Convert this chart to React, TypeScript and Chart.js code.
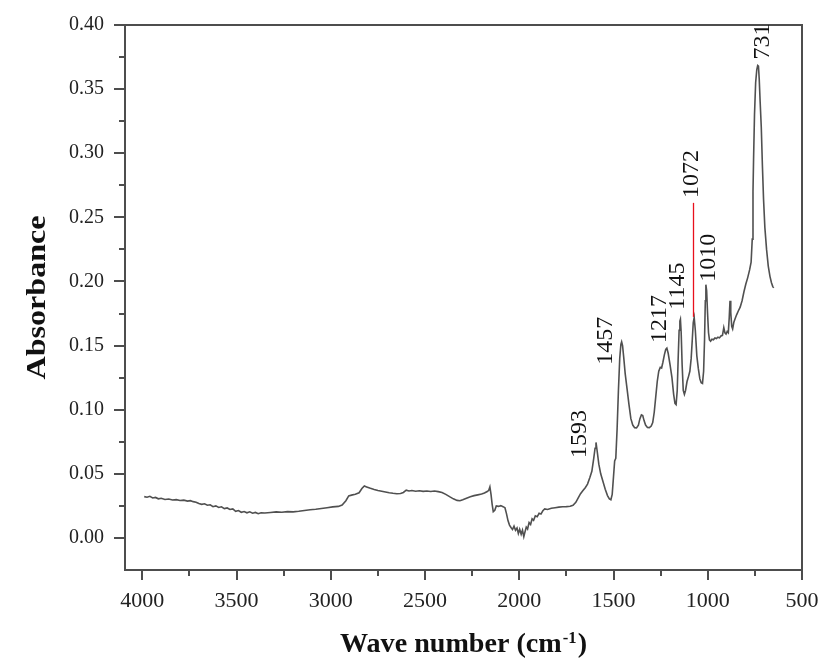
import React, { useEffect, useRef } from "react";
import { Chart, registerables } from "chart.js";

Chart.register(...registerables);

// Spectrum (wavenumber in cm-1, absorbance)
const wavenumbers: number[] = [
  3990, 3975, 3960, 3945, 3930, 3915, 3900, 3880, 3860, 3840, 3820, 3800, 3780, 3760, 3745, 3730,
  3715, 3700, 3685, 3670, 3655, 3640, 3625, 3610, 3595, 3580, 3565, 3550, 3535, 3520, 3505, 3490,
  3475, 3460, 3445, 3430, 3415, 3400, 3385, 3370, 3350, 3320, 3290, 3260, 3230, 3200, 3170, 3140,
  3110, 3080, 3050, 3020, 2990, 2960, 2940, 2920, 2905, 2890, 2870, 2850, 2835, 2822, 2810, 2790,
  2770, 2750, 2730, 2710, 2690, 2670, 2650, 2630, 2615, 2600, 2585, 2570, 2550, 2530, 2510, 2490,
  2470, 2450, 2430, 2410, 2390, 2370, 2350, 2330, 2315, 2300, 2280, 2260, 2240, 2220, 2200, 2185,
  2170, 2162, 2156, 2150, 2144, 2138, 2130, 2122, 2110, 2098, 2086, 2076, 2068, 2060, 2052, 2044,
  2036, 2028, 2020, 2012, 2005, 1998, 1990, 1983, 1976, 1970, 1963, 1956, 1948, 1940, 1932, 1924,
  1915, 1905, 1895, 1885, 1875, 1865, 1850, 1830, 1810, 1790, 1770, 1750, 1730, 1715, 1700, 1688,
  1675, 1662, 1650, 1638, 1626, 1615, 1605, 1598, 1593, 1587, 1578, 1568, 1556, 1544, 1532, 1522,
  1514, 1507, 1500, 1494, 1488, 1481, 1474, 1467, 1461, 1457, 1452, 1446, 1438, 1428, 1418, 1408,
  1398, 1388, 1378, 1368, 1360, 1352, 1345, 1338, 1330, 1320, 1310, 1300, 1292, 1284, 1276, 1268,
  1260, 1252, 1245, 1238, 1230, 1223, 1217, 1210, 1200, 1190, 1181, 1174, 1168, 1162, 1157, 1152,
  1148, 1145, 1141, 1136, 1130, 1124, 1118, 1110, 1102, 1095, 1088, 1082, 1077, 1072, 1066, 1058,
  1050, 1042, 1035, 1028, 1022, 1017, 1013, 1010, 1006, 1001, 996, 991, 985, 978, 970, 962,
  954, 946, 938, 930, 922, 915, 909, 903, 897, 891, 886, 882, 878, 873, 868, 862,
  855, 847, 838, 828, 818, 808, 798, 788, 778, 770, 764, 760, 757, 752, 746, 740,
  735, 731, 727, 722, 716, 710, 704, 697, 688, 679, 670, 662, 655, 650,
];

const absorbance: number[] = [
  0.0322, 0.0318, 0.0325, 0.0312, 0.0316, 0.0305, 0.0309, 0.03, 0.0304, 0.0296, 0.0299, 0.0292, 0.0295, 0.0287, 0.0291, 0.0283,
  0.0279, 0.0268, 0.0262, 0.0266, 0.0255, 0.0259, 0.0244, 0.025, 0.0238, 0.0243, 0.0229, 0.0234, 0.0222, 0.0226, 0.0208, 0.0214,
  0.02, 0.0206, 0.0196, 0.0204, 0.0193, 0.0199, 0.0189, 0.0196, 0.0194, 0.0199, 0.0203, 0.02, 0.0205, 0.0203, 0.0208, 0.0214,
  0.022, 0.0224, 0.023, 0.0236, 0.0242, 0.0246, 0.0256, 0.029, 0.0328, 0.0334, 0.034, 0.0352, 0.0385, 0.0405, 0.0398, 0.0387,
  0.0378, 0.037, 0.0364, 0.0358, 0.0352, 0.0348, 0.0345, 0.0347, 0.0355, 0.0372, 0.0366, 0.037, 0.0364, 0.0368, 0.0363, 0.0366,
  0.0362, 0.0366, 0.0361, 0.0355, 0.034, 0.0322, 0.0305, 0.0293, 0.029, 0.0298, 0.031, 0.0322, 0.033, 0.0336, 0.0342, 0.035,
  0.0362, 0.0372, 0.0398, 0.034, 0.0262, 0.0205, 0.0215, 0.025, 0.0246, 0.0252, 0.0244, 0.0236, 0.019, 0.0135, 0.01, 0.0082,
  0.0066, 0.0092, 0.006, 0.0078, 0.0035, 0.0068, 0.0028, 0.006, 0.001, 0.0045, 0.0085, 0.007, 0.012, 0.0105, 0.015, 0.0138,
  0.0172, 0.0165, 0.0192, 0.0186, 0.0212, 0.0226, 0.0222, 0.0232, 0.0236, 0.024, 0.0243, 0.0244, 0.0247, 0.0255, 0.0278, 0.031,
  0.0345, 0.037, 0.0392, 0.042, 0.047, 0.052, 0.062, 0.07, 0.0745, 0.068, 0.0575, 0.05, 0.044, 0.038, 0.033, 0.0305,
  0.0298, 0.034, 0.048, 0.06, 0.062, 0.085, 0.115, 0.14, 0.151, 0.153, 0.15, 0.141, 0.128, 0.116, 0.104, 0.093,
  0.088, 0.086, 0.0858, 0.088, 0.093, 0.096, 0.0955, 0.0915, 0.088, 0.0862, 0.086, 0.0872, 0.09, 0.098, 0.11, 0.122,
  0.13, 0.133, 0.1325, 0.137, 0.143, 0.147, 0.148, 0.144, 0.135, 0.125, 0.112, 0.105, 0.104, 0.115, 0.14, 0.162,
  0.169, 0.1705, 0.16, 0.135, 0.115, 0.112, 0.115, 0.122, 0.126, 0.13, 0.14, 0.155, 0.168, 0.172, 0.162, 0.142,
  0.132, 0.124, 0.121, 0.1205, 0.13, 0.155, 0.185, 0.1975, 0.193, 0.175, 0.16, 0.1545, 0.1535, 0.155, 0.1545, 0.156,
  0.1555, 0.1565, 0.156, 0.1575, 0.158, 0.164, 0.16, 0.159, 0.161, 0.16, 0.172, 0.185, 0.176, 0.165, 0.163, 0.168,
  0.171, 0.174, 0.177, 0.18, 0.185, 0.192, 0.198, 0.203, 0.209, 0.215, 0.233, 0.27, 0.295, 0.33, 0.355, 0.365,
  0.3685, 0.368, 0.358, 0.34, 0.32, 0.29, 0.264, 0.242, 0.225, 0.212, 0.204, 0.199, 0.196, 0.195,
];

const xTickValues: number[] = [4000, 3500, 3000, 2500, 2000, 1500, 1000, 500];
const xMinorTickValues: number[] = [3750, 3250, 2750, 2250, 1750, 1250, 750];
const yTickValues: number[] = [0, 0.05, 0.1, 0.15, 0.2, 0.25, 0.3, 0.35, 0.4];
const yMinorTickValues: number[] = [0.025, 0.075, 0.125, 0.175, 0.225, 0.275, 0.325, 0.375];

// Peak annotations: text, anchor wavenumber, anchor absorbance (bottom end of rotated text)
const peakLabels: string[] = ["731", "1072", "1010", "1145", "1217", "1457", "1593"];
const peakLabelX: number[] = [708, 1087, 997, 1159, 1257, 1541, 1677];
const peakLabelY: number[] = [0.373, 0.265, 0.1997, 0.178, 0.152, 0.135, 0.0624];

// Red marker line at 1072
const markerX = 1076;
const markerTop = 0.2613;
const markerBottom = 0.1724;

const xTitle = "Wave number (cm";
const xTitleSup = "-1";
const yTitle = "Absorbance";

const SERIF = '"Liberation Serif", "Times New Roman", serif';
const AXIS_COLOR = "#4d4d4d";

const decorPlugin = {
  id: "decor",
  afterDraw(chart: any) {
    const { ctx, chartArea: a, scales } = chart;
    const x = scales.x;
    const y = scales.y;
    ctx.save();

    // frame
    ctx.strokeStyle = AXIS_COLOR;
    ctx.lineWidth = 2;
    ctx.strokeRect(a.left, a.top, a.right - a.left, a.bottom - a.top);

    // minor ticks
    ctx.beginPath();
    xMinorTickValues.forEach((v) => {
      const px = Math.round(x.getPixelForValue(v));
      ctx.moveTo(px, a.bottom);
      ctx.lineTo(px, a.bottom + 6);
    });
    yMinorTickValues.forEach((v) => {
      const py = Math.round(y.getPixelForValue(v));
      ctx.moveTo(a.left, py);
      ctx.lineTo(a.left - 6, py);
    });
    ctx.stroke();

    // red marker line
    ctx.strokeStyle = "#e8101c";
    ctx.lineWidth = 1.3;
    ctx.beginPath();
    const mx = Math.round(x.getPixelForValue(markerX)) + 0.5;
    ctx.moveTo(mx, y.getPixelForValue(markerTop));
    ctx.lineTo(mx, y.getPixelForValue(markerBottom));
    ctx.stroke();

    // peak labels
    ctx.fillStyle = "#111";
    ctx.font = `24px ${SERIF}`;
    ctx.textAlign = "left";
    ctx.textBaseline = "middle";
    peakLabels.forEach((t, i) => {
      const px = x.getPixelForValue(peakLabelX[i]);
      const py = y.getPixelForValue(peakLabelY[i]);
      ctx.save();
      ctx.translate(px, py);
      ctx.rotate(-Math.PI / 2);
      ctx.fillText(t, 0, 0);
      ctx.restore();
    });

    // x title with superscript
    const cx = (a.left + a.right) / 2;
    const mainFont = `bold 27px ${SERIF}`;
    const supFont = `bold 16px ${SERIF}`;
    ctx.font = mainFont;
    const w1 = ctx.measureText(xTitle).width;
    const w3 = ctx.measureText(")").width;
    ctx.font = supFont;
    const w2 = ctx.measureText(xTitleSup).width;
    const total = w1 + w2 + w3 + 2;
    const sx = 247 / total;
    ctx.save();
    ctx.translate(cx, 652);
    ctx.scale(sx, 1);
    ctx.textBaseline = "alphabetic";
    ctx.textAlign = "left";
    ctx.fillStyle = "#111";
    ctx.font = mainFont;
    ctx.fillText(xTitle, -total / 2, 0);
    ctx.font = supFont;
    ctx.fillText(xTitleSup, -total / 2 + w1 + 1, -9);
    ctx.font = mainFont;
    ctx.fillText(")", -total / 2 + w1 + w2 + 2, 0);
    ctx.restore();

    // y title
    ctx.save();
    ctx.font = `bold 27px ${SERIF}`;
    const wy = ctx.measureText(yTitle).width;
    const sy = 164 / wy;
    ctx.translate(45, (a.top + a.bottom) / 2);
    ctx.rotate(-Math.PI / 2);
    ctx.scale(sy, 1);
    ctx.textAlign = "center";
    ctx.textBaseline = "alphabetic";
    ctx.fillStyle = "#111";
    ctx.fillText(yTitle, 0, 0);
    ctx.restore();

    ctx.restore();
  },
};

export default function App() {
  const canvasRef = useRef<HTMLCanvasElement | null>(null);

  useEffect(() => {
    const canvas = canvasRef.current;
    if (!canvas) return;
    const points = wavenumbers.map((w, i) => ({ x: w, y: absorbance[i] }));
    const chart = new Chart(canvas, {
      type: "line",
      data: {
        datasets: [
          {
            data: points,
            borderColor: "#505050",
            borderWidth: 1.6,
            pointRadius: 0,
            tension: 0,
            fill: false,
          },
        ],
      },
      options: {
        responsive: false,
        animation: false,
        devicePixelRatio: 1,
        layout: { padding: { left: 0, right: 21, top: 25, bottom: 0 } },
        plugins: {
          legend: { display: false },
          tooltip: { enabled: false },
        },
        scales: {
          x: {
            type: "linear",
            reverse: true,
            min: 500,
            max: 4092,
            afterBuildTicks: (scale: any) => {
              scale.ticks = xTickValues.map((v) => ({ value: v }));
            },
            afterFit: (scale: any) => {
              scale.height = 91;
              scale.paddingLeft = 0;
              scale.paddingRight = 0;
            },
            ticks: {
              autoSkip: false,
              maxRotation: 0,
              padding: 8,
              color: "#222",
              font: { family: SERIF, size: 22 },
              callback: (v: any) => String(v),
            },
            grid: {
              display: true,
              drawOnChartArea: false,
              drawTicks: true,
              tickLength: 10,
              color: AXIS_COLOR,
              lineWidth: 2,
            },
            border: { display: true, color: AXIS_COLOR, width: 2 },
          },
          y: {
            type: "linear",
            min: -0.025,
            max: 0.4,
            afterBuildTicks: (scale: any) => {
              scale.ticks = yTickValues.map((v) => ({ value: v }));
            },
            afterFit: (scale: any) => {
              scale.width = 125;
            },
            ticks: {
              autoSkip: false,
              padding: 10,
              color: "#222",
              font: { family: SERIF, size: 20 },
              callback: (v: any) => Number(v).toFixed(2),
            },
            grid: {
              display: true,
              drawOnChartArea: false,
              drawTicks: true,
              tickLength: 11,
              color: AXIS_COLOR,
              lineWidth: 2,
            },
            border: { display: true, color: AXIS_COLOR, width: 2 },
          },
        },
      },
      plugins: [decorPlugin],
    });
    return () => chart.destroy();
  }, []);

  return (
    <div style={{ position: "absolute", left: 0, top: 0, width: 823, height: 661, background: "#fff" }}>
      <canvas ref={canvasRef} width={823} height={661} style={{ display: "block" }} />
    </div>
  );
}
